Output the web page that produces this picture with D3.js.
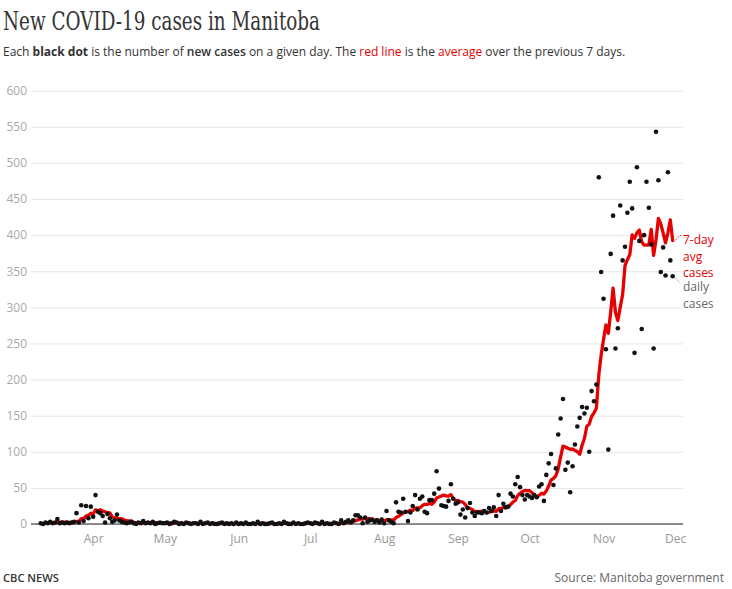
<!DOCTYPE html>
<html><head><meta charset="utf-8">
<script src="https://cdn.jsdelivr.net/npm/d3@7"></script>
<style>body{margin:0;background:#fff}svg{display:block}</style>
</head><body><svg id="c" width="732" height="589"></svg>
<script>
// ---- data ----
const monthStarts = ["2020-03-10","2020-04-01","2020-05-01","2020-06-01","2020-07-01","2020-08-01","2020-09-01","2020-10-01","2020-11-01"];

const dailyMar = [1,0,2,1,3,1,2,7,1,2,1,2,1,2,3,15,2,26,4,25,8,24];
const dailyApr = [10,40,17,15,11,2,14,8,3,5,13,5,3,2,1,2,3,1,0,2,1,4,1,2,1,3,0,1,2,1];
const dailyMay = [1,2,0,1,3,2,0,1,0,2,1,0,1,1,0,3,0,1,2,0,1,0,0,1,2,0,1,0,1,0,2];
const dailyJun = [0,1,0,2,0,0,1,0,3,0,1,0,0,1,2,0,0,1,0,3,1,0,0,2,0,1,0,0,1,2];
const dailyJul = [1,0,2,1,0,3,0,1,0,0,2,1,0,5,1,3,5,2,5,12,12,9,1,9,3,5,6,3,5,2,6];
const dailyAug = [1,18,5,3,1,30,17,16,35,17,4,16,25,40,20,35,38,17,15,33,33,42,73,49,26,25,24,32,55,35,28];
const dailySep = [30,13,20,9,22,29,16,11,16,16,15,18,16,22,18,23,11,40,18,28,23,24,42,38,55,65,51,40,34,40];
const dailyOct = [38,36,40,37,52,55,32,68,84,97,54,77,124,146,173,75,85,44,80,110,135,147,162,153,161,100,184,170,193,480,349];
const dailyNov = [312,242,103,374,427,243,271,441,365,384,431,474,437,237,494,392,270,400,474,438,387,243,543,476,349,383,344,487,365,343];

const avgMar = [null,null,null,null,null,null,1.4,2.3,2.4,2.4,2.4,2.3,2.3,2.3,1.7,3.7,3.7,7.3,7.6,11,11.9,14.9];
const avgApr = [14.1,19.6,18.3,19.9,17.9,17,15.6,15.3,10,8.3,8,7.1,7.3,5.6,4.6,4.4,4.1,2.4,1.7,1.6,1.4,1.9,1.7,1.6,1.6,2,1.7,1.7,1.4,1.4];
const avgMay = [1.4,1.4,1.3,1.3,1.4,1.3,1.3,1.3,1.0,1.3,1.3,1.0,0.9,0.9,0.9,1.1,0.9,0.9,1.0,1.0,0.9,0.7,0.7,0.7,0.9,0.7,0.7,0.6,0.7,0.6,0.9];
const avgJun = [0.6,0.7,0.6,0.9,0.6,0.6,0.6,0.6,1.0,0.9,0.9,0.7,0.7,0.7,1.0,0.6,0.6,0.6,0.6,1.0,1.0,0.9,0.9,1.0,0.6,0.6,0.6,0.6,0.6,0.9];
const avgJul = [0.9,0.7,0.9,1.0,0.9,1.1,1.0,1.0,1.0,0.7,0.9,1.0,0.6,1.3,1.3,1.7,2.4,2.4,3.0,4.7,5.6,7.1,6.6,7.9,7.3,7.3,6.4,5.1,5.9,4.7,4.3];
const avgAug = [4.0,5.9,5.7,5.7,5.1,9.1,10.7,12.9,15.3,17,17.1,19.3,18.6,21.9,22.4,22.4,25.4,27.3,27.1,28.3,27.3,30.4,35.9,37.4,38.7,40.1,38.9,38.7,40.6,35.1,32.1];
const avgSep = [32.7,31,30.4,27.1,22.4,21.6,19.9,17.1,17.6,17,17.9,17.3,15.4,16.3,17.3,18.3,17.6,21.1,21.1,22.9,23,23.9,26.6,30.4,32.6,39.3,42.6,45,46.4,46.1];
const avgOct = [46.1,43.4,39.9,37.9,39.6,42.6,41.4,45.7,52.6,60.7,63.1,66.7,76.6,92.9,107.9,106.6,104.9,103.4,103.9,101.9,100.3,96.6,109,118.7,135.4,138.3,148.9,153.9,160.4,205.9,233.9];
const avgNov = [255.4,275.7,264.1,293.3,326.7,292.9,281.7,300.1,317.7,357.9,366,372.7,400.4,395.6,403.1,407,390.7,386.3,386.3,386.4,407.9,372,393.6,423,415.7,402.7,389.3,403.6,421,392.4];

const yTicks = [0,50,100,150,200,250,300,350,400,450,500,550,600];
const xTickDates = ["2020-04-01","2020-05-01","2020-06-01","2020-07-01","2020-08-01","2020-09-01","2020-10-01","2020-11-01","2020-12-01"];
const xTickLabels = ["Apr","May","Jun","Jul","Aug","Sep","Oct","Nov","Dec"];

// ---- build ----
const parse = d3.timeParse("%Y-%m-%d");
const dailyByMonth = [dailyMar,dailyApr,dailyMay,dailyJun,dailyJul,dailyAug,dailySep,dailyOct,dailyNov];
const avgByMonth = [avgMar,avgApr,avgMay,avgJun,avgJul,avgAug,avgSep,avgOct,avgNov];
const data = [];
dailyByMonth.forEach((arr, m) => {
  const s = parse(monthStarts[m]);
  arr.forEach((v, i) => data.push({date: d3.timeDay.offset(s, i), cases: v, avg: avgByMonth[m][i]}));
});

const svg = d3.select("#c");
const FONT = "'Open Sans', sans-serif";
const left = 31, right = 683;

const x = d3.scaleTime().domain([data[0].date, data[data.length-1].date]).range([40.7, 672.7]);
const y = d3.scaleLinear().domain([0, 600]).range([524, 90.7]);

// title + subtitle
svg.append("text").attr("x", 3).attr("y", 30)
  .attr("font-family", "'DejaVu Serif', serif").attr("font-size", 26)
  .attr("fill", "#333").attr("textLength", 317).attr("lengthAdjust", "spacingAndGlyphs")
  .text("New COVID-19 cases in Manitoba");

const sub = svg.append("text").attr("x", 3).attr("y", 56)
  .attr("font-family", FONT).attr("font-size", 12).attr("fill", "#333");
[["Each ",null,null],["black dot","700",null],[" is the number of ",null,null],["new cases","600",null],
 [" on a given day. The ",null,null],["red line",null,"#e60000"],[" is the ",null,null],["average",null,"#e60000"],
 [" over the previous 7 days.",null,null]].forEach(([t,w,c]) => {
  const ts = sub.append("tspan").text(t);
  if (w) ts.attr("font-weight", w);
  if (c) ts.attr("fill", c);
});

// y grid / axis
const gy = svg.append("g").attr("transform", `translate(${left},0)`)
  .call(d3.axisLeft(y).tickValues(yTicks).tickSize(-(right-left)).tickPadding(4));
gy.select(".domain").remove();
gy.selectAll(".tick line").attr("stroke", "#e6e6e6");
gy.selectAll(".tick text").attr("fill", "#aaa").attr("font-family", FONT).attr("font-size", 12);

// x axis
const gx = svg.append("g").attr("transform", "translate(0,524)")
  .call(d3.axisBottom(x).tickValues(xTickDates.map(parse)).tickFormat((d,i) => xTickLabels[i]).tickSize(0).tickPadding(10));
gx.select(".domain").remove();
gx.selectAll(".tick text").attr("fill", "#999").attr("font-family", FONT).attr("font-size", 12);

// zero baseline
svg.append("line").attr("x1", left).attr("x2", right).attr("y1", y(0)).attr("y2", y(0))
  .attr("stroke", "#222").attr("stroke-width", 1);

// red average line
const line = d3.line().defined(d => d.avg != null).x(d => x(d.date)).y(d => y(d.avg));
svg.append("path").datum(data).attr("d", line)
  .attr("fill", "none").attr("stroke", "#e60000").attr("stroke-width", 3.3)
  .attr("stroke-linejoin", "round").attr("stroke-linecap", "round");

// daily dots
svg.append("g").selectAll("circle").data(data).join("circle")
  .attr("cx", d => x(d.date)).attr("cy", d => y(d.cases)).attr("r", 2.3).attr("fill", "#111");

// labels
const last = data[data.length-1];
svg.append("line").attr("x1", x(last.date)+3).attr("y1", y(last.avg)-1).attr("x2", 681).attr("y2", 235)
  .attr("stroke", "#e60000").attr("stroke-width", 1).attr("stroke-dasharray", "1.5,1.5");
svg.append("line").attr("x1", x(last.date)+3).attr("y1", y(last.cases)+2).attr("x2", 680).attr("y2", 283)
  .attr("stroke", "#888").attr("stroke-width", 1).attr("stroke-dasharray", "1.5,1.5");
[["7-day",244],["avg",260.5],["cases",277]].forEach(([t,yy]) =>
  svg.append("text").attr("x", 683).attr("y", yy).attr("font-family", FONT).attr("font-size", 12).attr("fill", "#e60000").text(t));
[["daily",291],["cases",307.5]].forEach(([t,yy]) =>
  svg.append("text").attr("x", 683).attr("y", yy).attr("font-family", FONT).attr("font-size", 12).attr("fill", "#666").text(t));

// footer
svg.append("text").attr("x", 3).attr("y", 582).attr("font-family", FONT).attr("font-size", 11)
  .attr("font-weight", 600).attr("fill", "#333").attr("textLength", 56).attr("lengthAdjust", "spacingAndGlyphs").text("CBC NEWS");
svg.append("text").attr("x", 724).attr("y", 582).attr("text-anchor", "end").attr("font-family", FONT)
  .attr("font-size", 12).attr("fill", "#666").text("Source: Manitoba government");
</script></body></html>
